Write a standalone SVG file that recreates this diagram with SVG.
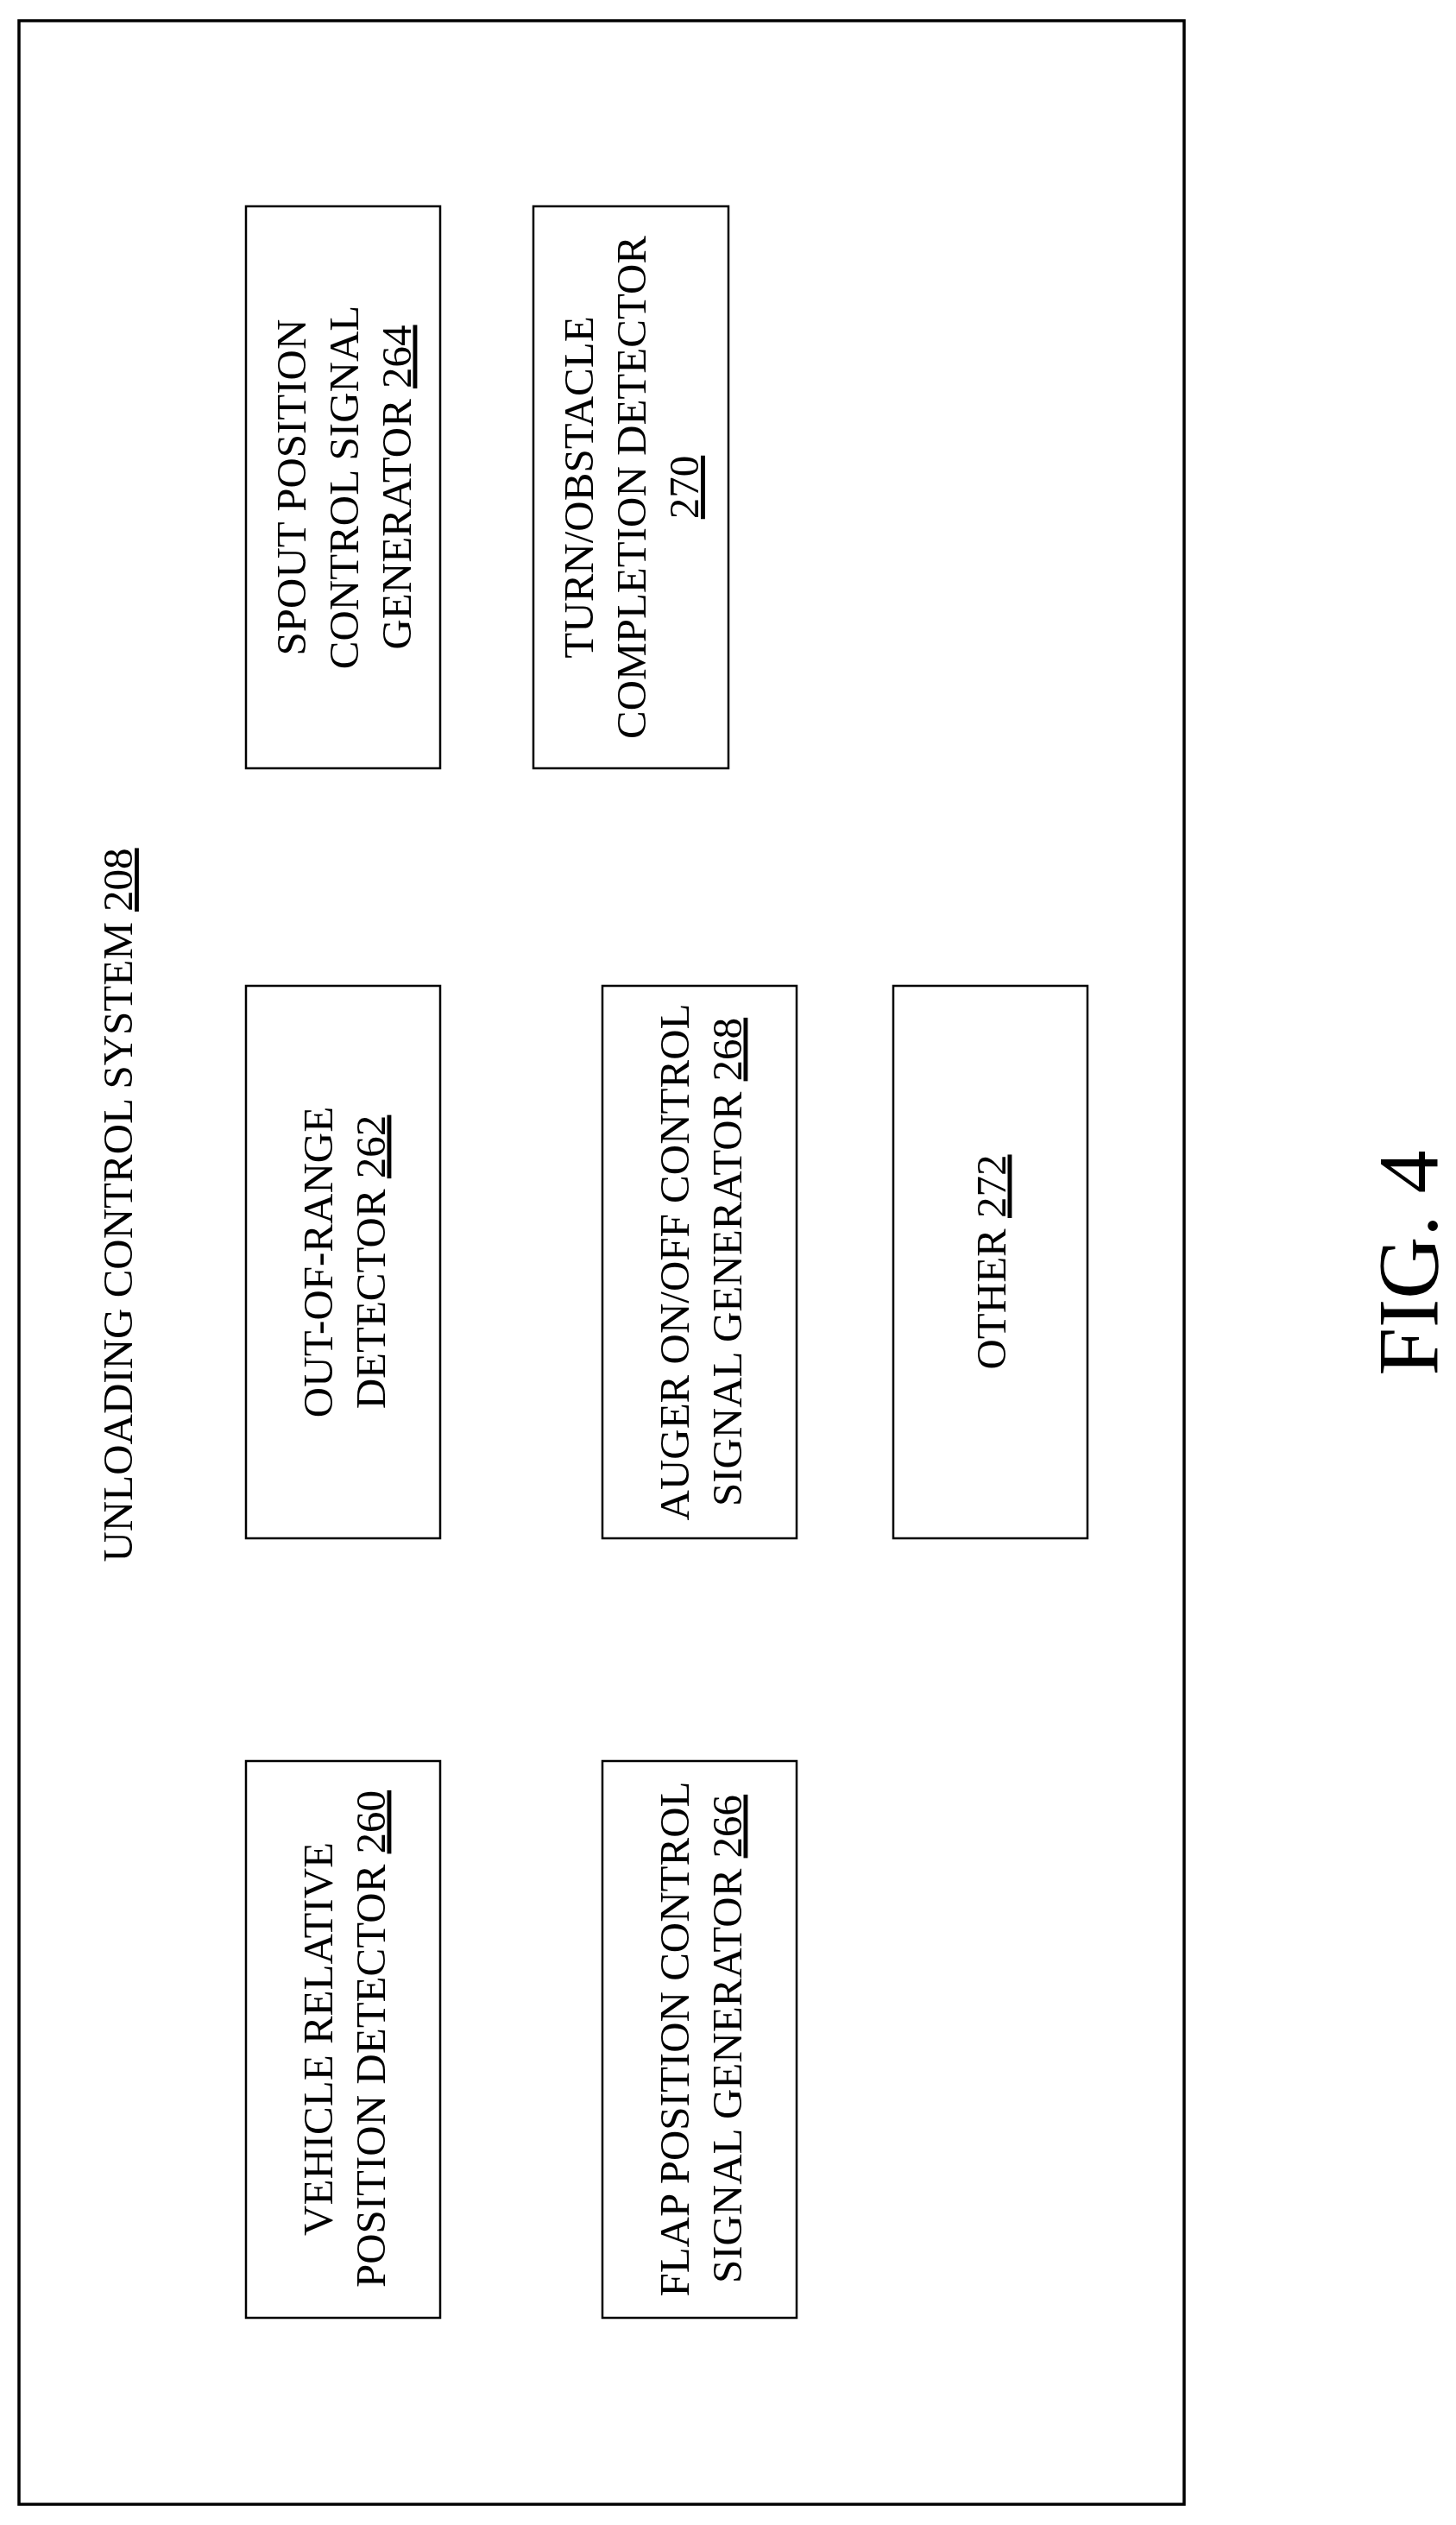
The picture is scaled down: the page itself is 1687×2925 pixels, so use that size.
<svg xmlns="http://www.w3.org/2000/svg" width="1687" height="2925" viewBox="0 0 1687 2925">
<style>
text{font-family:"Liberation Serif","Times New Roman",serif;font-size:49px;fill:#000;text-anchor:middle}
.box{fill:#fff;stroke:#000;stroke-width:2.5}
.u{text-decoration:underline}
</style>
<rect width="1687" height="2925" fill="#fff"/>
<rect x="22" y="24" width="1350" height="2877" fill="none" stroke="#000" stroke-width="3.5"/>
<g id="title"><text transform="translate(153,1396) rotate(-90)" x="0" y="0">UNLOADING CONTROL SYSTEM <tspan class="u">208</tspan></text></g>
<g id="n264"><rect class="box" x="285" y="239" width="225" height="651"/>
<text transform="translate(397.5,564.5) rotate(-90)"><tspan x="0" y="-44">SPOUT POSITION</tspan><tspan x="0" y="17">CONTROL SIGNAL</tspan><tspan x="0" y="78">GENERATOR <tspan class="u">264</tspan></tspan></text></g>
<g id="n270"><rect class="box" x="618" y="239" width="226" height="651"/>
<text transform="translate(731,564.5) rotate(-90)"><tspan x="0" y="-44">TURN/OBSTACLE</tspan><tspan x="0" y="17">COMPLETION DETECTOR</tspan><tspan x="0" y="78" class="u">270</tspan></text></g>
<g id="n262"><rect class="box" x="285" y="1142" width="225" height="640"/>
<text transform="translate(397.5,1462) rotate(-90)"><tspan x="0" y="-13">OUT-OF-RANGE</tspan><tspan x="0" y="48">DETECTOR <tspan class="u">262</tspan></tspan></text></g>
<g id="n268"><rect class="box" x="698" y="1142" width="225" height="640"/>
<text transform="translate(810.5,1462) rotate(-90)"><tspan x="0" y="-13">AUGER ON/OFF CONTROL</tspan><tspan x="0" y="48">SIGNAL GENERATOR <tspan class="u">268</tspan></tspan></text></g>
<g id="n272"><rect class="box" x="1035" y="1142" width="225" height="640"/>
<text transform="translate(1147.5,1462) rotate(-90)" y="17">OTHER <tspan class="u">272</tspan></text></g>
<g id="n260"><rect class="box" x="285" y="2040" width="225" height="645"/>
<text transform="translate(397.5,2362) rotate(-90)"><tspan x="0" y="-13">VEHICLE RELATIVE</tspan><tspan x="0" y="48">POSITION DETECTOR <tspan class="u">260</tspan></tspan></text></g>
<g id="n266"><rect class="box" x="698" y="2040" width="225" height="645"/>
<text transform="translate(810.5,2362) rotate(-90)"><tspan x="0" y="-13">FLAP POSITION CONTROL</tspan><tspan x="0" y="48">SIGNAL GENERATOR <tspan class="u">266</tspan></tspan></text></g>
<g id="connectors"></g>
<g id="fig"><text transform="translate(1665,1463) rotate(-90)" style="font-size:100px">FIG. 4</text></g>
</svg>
